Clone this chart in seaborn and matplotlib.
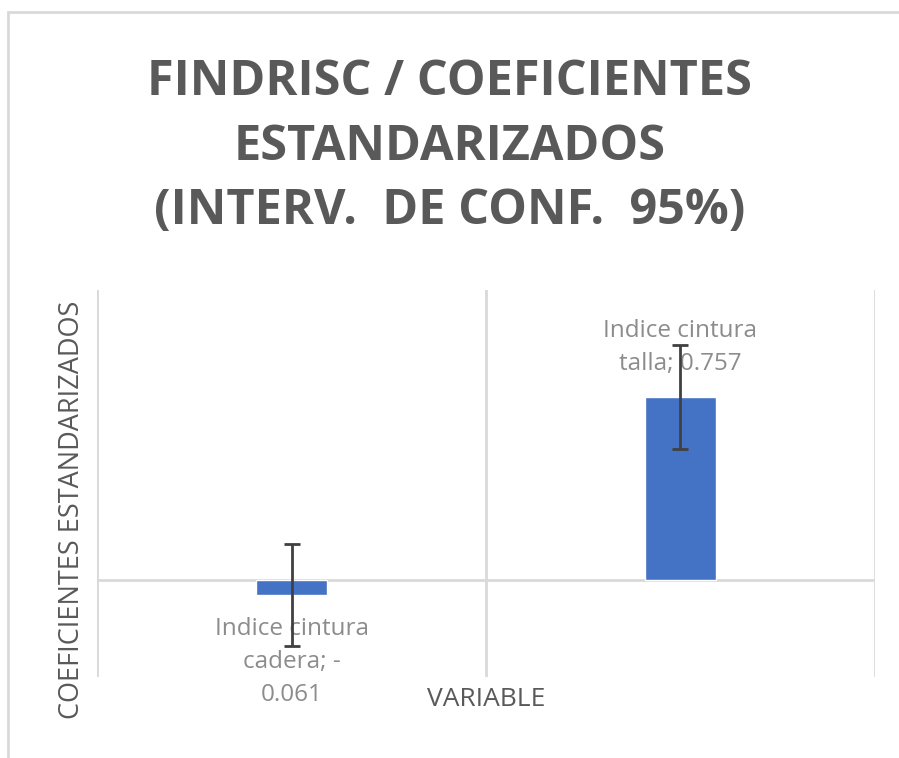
import matplotlib
matplotlib.use("Agg")
import matplotlib.pyplot as plt
import matplotlib.patches as mpatches
import seaborn as sns
import pandas as pd

# data
variables = ["Indice cintura cadera", "Indice cintura talla"]
coefs = [-0.061, 0.757]
ci_half = [0.21, 0.214]
labels = ["Indice cintura\ncadera; -\n0.061", "Indice cintura\ntalla; 0.757"]

title = "FINDRISC / COEFICIENTES\nESTANDARIZADOS\n(INTERV.  DE CONF.  95%)"
xlabel = "VARIABLE"
ylabel = "COEFICIENTES ESTANDARIZADOS"

BAR = "#4472C4"
GRID = "#D9D9D9"
TXT = "#595959"
LBL = "#8C8C8C"

sns.set_theme(style="white")
plt.rcParams["font.family"] = ["Open Sans", "DejaVu Sans"]

df = pd.DataFrame({"variable": variables, "coef": coefs})

fig = plt.figure(figsize=(8.99, 7.58), dpi=100)
ax = fig.add_axes([0.1079, 0.1069, 0.9733 - 0.1079, 0.6174 - 0.1069])

sns.barplot(data=df, x="variable", y="coef", color=BAR, width=0.185,
            errorbar=None, saturation=1, ax=ax)
ax.errorbar(range(len(coefs)), coefs, yerr=ci_half, fmt="none",
            ecolor="#404040", elinewidth=2, capsize=6, capthick=2, zorder=4)

ax.set_xlim(-0.5, 1.5)
ax.set_ylim(-0.4, 1.2)
for s in ax.spines.values():
    s.set_visible(False)
ax.set_xticks([])
ax.set_yticks([])
ax.set_xlabel("")
ax.set_ylabel("")
for xv in [-0.5, 0.5, 1.5]:
    ax.axvline(xv, color=GRID, lw=2, zorder=0)
ax.axhline(0, color=GRID, lw=2, zorder=0.5)

# data labels (outside end)
for i, (v, lab) in enumerate(zip(coefs, labels)):
    if v >= 0:
        ax.annotate(lab, (i, v), xytext=(0, 15), textcoords="offset points",
                    ha="center", va="bottom", color=LBL, fontsize=17.5,
                    linespacing=1.5, zorder=3)
    else:
        ax.annotate(lab, (i, v), xytext=(0, -16), textcoords="offset points",
                    ha="center", va="top", color=LBL, fontsize=17.5,
                    linespacing=1.5, zorder=3)

fig.text(0.5, 1 - 147 / 758, title, ha="center", va="center", fontsize=35,
         fontweight="bold", color=TXT, linespacing=1.42)
fig.text(486 / 899, 1 - 700 / 758, xlabel, ha="center", va="center",
         fontsize=19, color=TXT)
fig.text(72 / 899, 1 - 510 / 758, ylabel, ha="center", va="center",
         fontsize=19.5, color=TXT, rotation=90)

# chart border
fig.patches.append(mpatches.Rectangle((8 / 899, -0.05), 1.1, 1 - 12 / 758 + 0.05,
                                      transform=fig.transFigure, fill=False,
                                      edgecolor=GRID, lw=2))

fig.savefig("out.png", dpi=100)
